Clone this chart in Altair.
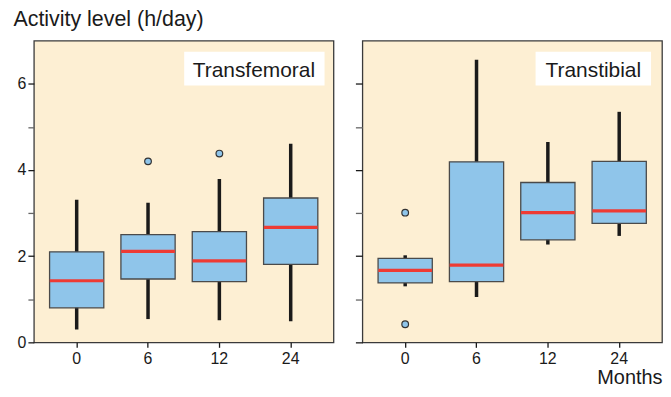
import altair as alt
import pandas as pd

months = ["0", "6", "12", "24"]

# Transfemoral
tf_low = [0.30, 0.54, 0.51, 0.49]
tf_q1 = [0.80, 1.47, 1.41, 1.81]
tf_med = [1.43, 2.11, 1.89, 2.67]
tf_q3 = [2.10, 2.50, 2.57, 3.35]
tf_high = [3.31, 3.24, 3.79, 4.61]
tf_out_month = ["6", "12"]
tf_out_value = [4.20, 4.38]

# Transtibial
tt_low = [1.30, 1.05, 2.27, 2.47]
tt_q1 = [1.38, 1.41, 2.38, 2.76]
tt_med = [1.67, 1.79, 3.01, 3.05]
tt_q3 = [1.95, 4.19, 3.71, 4.20]
tt_high = [2.02, 6.56, 4.65, 5.35]
tt_out_month = ["0", "0"]
tt_out_value = [3.01, 0.42]

FONT = "Liberation Sans"
BOX_FILL = "#8fc5ea"
MED_RED = "#ee3b34"
BG = "#fdefd3"
W1, W2, H = 301, 301, 303


def panel(low, q1, med, q3, high, om, ov, label, box_px, text_x, first, width):
    df = pd.DataFrame({"month": months, "low": low, "q1": q1, "med": med,
                       "q3": q3, "high": high})
    odf = pd.DataFrame({"month": om, "value": ov})
    one = pd.DataFrame({"a": [0]})

    xscale = alt.Scale(domain=months, paddingInner=0.24, paddingOuter=0.22)
    yscale = alt.Scale(domain=[0, 7], nice=False, zero=True)
    tick_col = {"condition": {"test": "datum.value % 2 == 0", "value": "#1a1a1a"}, "value": "#666666"}
    if first:
        xaxis = alt.Axis(title=None, labelAngle=0, tickSize=5, labelPadding=3)
        yaxis = alt.Axis(title=None, values=[0, 1, 2, 3, 4, 5, 6], tickSize=6,
                         labelPadding=2, grid=False,
                         labelExpr="datum.value % 2 == 0 ? datum.label : ''",
                         tickColor=tick_col)
    else:
        xaxis = alt.Axis(title="Months", labelAngle=0, tickSize=5, labelPadding=3,
                         titleAnchor="end", titleAlign="right", titleFontSize=20,
                         titleFont=FONT, titleFontWeight="normal", titlePadding=1,
                         titleColor="#1a1a1a")
        yaxis = alt.Axis(title=None, values=[0, 1, 2, 3, 4, 5, 6], tickSize=7,
                         labels=False, grid=False, tickColor=tick_col)

    x = alt.X("month:N", scale=xscale, axis=xaxis, sort=months)

    whisk = alt.Chart(df).mark_rule(color="#1a1a1a", strokeWidth=3.5).encode(
        x=x, y=alt.Y("low:Q", scale=yscale, axis=yaxis), y2="high:Q")
    box = alt.Chart(df).mark_bar(fill=BOX_FILL, stroke="#4a4a4a", strokeWidth=1.3).encode(
        x=x, y=alt.Y("q1:Q", scale=yscale, axis=yaxis), y2="q3:Q")
    medl = alt.Chart(df).mark_tick(color=MED_RED, thickness=3.2, size=54,
                                   orient="horizontal", opacity=1).encode(
        x=x, y=alt.Y("med:Q", scale=yscale, axis=yaxis))
    outl = alt.Chart(odf).mark_point(shape="circle", filled=True, fill=BOX_FILL,
                                     stroke="#333333", strokeWidth=1.2, size=45, opacity=1).encode(
        x=x, y=alt.Y("value:Q", scale=yscale, axis=yaxis))
    lbox = alt.Chart(one).mark_rect(color="white").encode(
        x=alt.value(box_px[0]), x2=alt.value(box_px[1]),
        y=alt.value(11), y2=alt.value(45))
    ltext = alt.Chart(one).mark_text(text=label, font=FONT, fontSize=21,
                                     color="#1a1a1a", align="center",
                                     baseline="alphabetic").encode(
        x=alt.value(text_x), y=alt.value(36))
    return alt.layer(whisk, box, medl, outl, lbox, ltext).properties(width=width, height=H)


left = panel(tf_low, tf_q1, tf_med, tf_q3, tf_high, tf_out_month, tf_out_value,
             "Transfemoral", (151, 292), 221, True, W1)
right = panel(tt_low, tt_q1, tt_med, tt_q3, tt_high, tt_out_month, tt_out_value,
              "Transtibial", (174, 290), 232, False, W2)

chart = alt.hconcat(left, right, spacing=19).properties(
    title=alt.TitleParams("Activity level (h/day)", anchor="start", fontSize=21.5,
                          font=FONT, fontWeight="normal", color="#1a1a1a",
                          baseline="alphabetic", offset=-7, dx=-3),
    padding={"left": 5, "top": -1, "right": 0, "bottom": -1},
).configure_view(
    fill=BG, stroke="#3a3a3a", strokeWidth=1.3
).configure_axis(
    domain=False, labelFont=FONT, labelFontSize=16, labelColor="#1a1a1a",
    tickWidth=1.3, tickColor="#1a1a1a"
)

chart.save("out.html", embed_options={"renderer": "svg", "actions": False})
